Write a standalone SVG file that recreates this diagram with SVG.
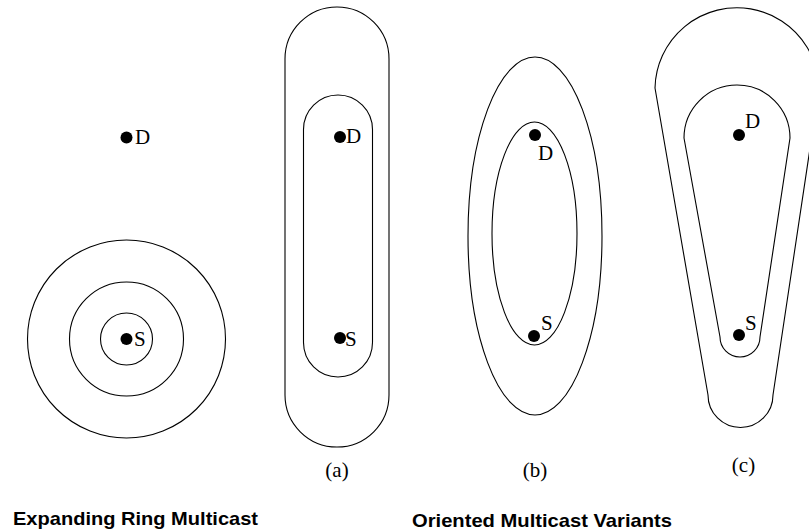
<svg xmlns="http://www.w3.org/2000/svg" width="809" height="531" viewBox="0 0 809 531">
<style>
.ln{fill:none;stroke:#000;stroke-width:1.1}
.dot{fill:#000}
.lab{font-family:"Liberation Serif","Times New Roman",serif;font-size:21px;fill:#000}
.cap{font-family:"Liberation Sans",Arial,sans-serif;font-size:19px;font-weight:bold;fill:#000}
</style>
<rect width="809" height="531" fill="#fff"/>
<g id="ring">
<circle class="ln" cx="126.5" cy="339" r="99"/>
<circle class="ln" cx="126.5" cy="339" r="57"/>
<circle class="ln" cx="126.5" cy="339" r="26"/>
<circle class="dot" cx="126.5" cy="137.5" r="6"/>
<text class="lab" x="135" y="144">D</text>
<circle class="dot" cx="126.5" cy="339" r="6"/>
<text class="lab" x="134" y="346">S</text>
</g>
<g id="variant-a">
<rect class="ln" x="285" y="7" width="104" height="440" rx="52" ry="52"/>
<rect class="ln" x="303.5" y="95" width="69" height="282" rx="34.5" ry="34.5"/>
<circle class="dot" cx="340" cy="137" r="6"/>
<text class="lab" x="346" y="143">D</text>
<circle class="dot" cx="340" cy="338" r="6"/>
<text class="lab" x="345" y="346">S</text>
<text class="lab" x="337" y="477" text-anchor="middle">(a)</text>
</g>
<g id="variant-b">
<ellipse class="ln" cx="535" cy="236" rx="67" ry="179"/>
<ellipse class="ln" cx="534.5" cy="233.5" rx="42.5" ry="111.5"/>
<circle class="dot" cx="535" cy="135" r="6"/>
<text class="lab" x="538" y="160">D</text>
<circle class="dot" cx="534" cy="336" r="6"/>
<text class="lab" x="541" y="330">S</text>
<text class="lab" x="535" y="477" text-anchor="middle">(b)</text>
</g>
<g id="variant-c">
<path class="ln" d="M655,88 L708,395 A32.5 32.5 0 1 0 773,395 L815,115 A82 82 0 1 0 655,88 Z"/>
<path class="ln" d="M684,138 L720,337 A20 20 0 1 0 760,337 L790,138 A53 53 0 0 0 684,138 Z"/>
<circle class="dot" cx="739" cy="135" r="6"/>
<text class="lab" x="745" y="128">D</text>
<circle class="dot" cx="739" cy="335" r="6"/>
<text class="lab" x="745" y="330">S</text>
<text class="lab" x="743.5" y="472" text-anchor="middle">(c)</text>
</g>
<g id="connectors"></g>
<g id="captions">
<text class="cap" x="13" y="525" textLength="245" lengthAdjust="spacingAndGlyphs">Expanding Ring Multicast</text>
<text class="cap" x="412" y="527" textLength="260" lengthAdjust="spacingAndGlyphs">Oriented Multicast Variants</text>
</g>
</svg>
